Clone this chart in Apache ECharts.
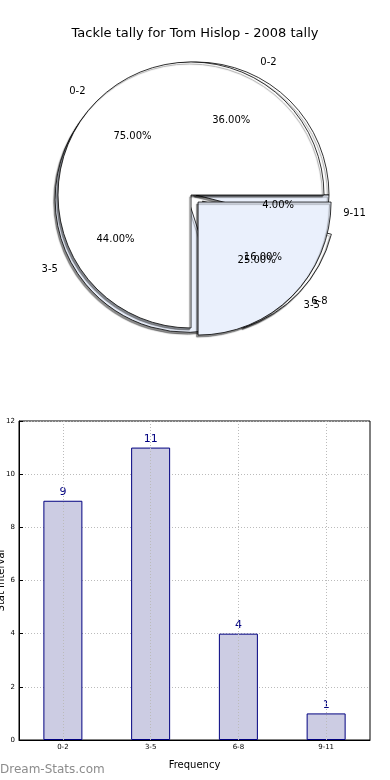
<!DOCTYPE html>
<html>
<head>
<meta charset="utf-8">
<script src="https://cdn.jsdelivr.net/npm/echarts@6/dist/echarts.min.js"></script>
<style>
html,body{margin:0;padding:0;background:#fff;}
#chart{width:390px;height:780px;}
</style>
</head>
<body>
<div id="chart"></div>
<script>
// ---- data ----
const titleText = 'Tackle tally for Tom Hislop - 2008 tally';
const categories = ['0-2', '3-5', '6-8', '9-11'];
const tallyValues = [9, 11, 4, 1];
const pieACategories = ['0-2', '3-5'];
const pieAValues = [75, 25];
const yTicks = [0, 2, 4, 6, 8, 10, 12];
const xAxisName = 'Frequency';
const yAxisName = 'Stat Interval';
const watermark = 'Dream-Stats.com';

// ---- styling ----
const FONT = 'DejaVu Sans';
const sliceColors = ['#ffffff', '#eaf0fc'];
const R = 133;

function pieData(names, vals, selectedNames) {
  return names.map((n, i) => ({
    name: n, value: vals[i],
    selected: selectedNames.indexOf(n) >= 0,
    itemStyle: { color: sliceColors[i % 2] }
  }));
}

const sliceStyle = {
  borderColor: '#000', borderWidth: 0.8,
  shadowColor: 'rgba(0,0,0,0.45)', shadowBlur: 1, shadowOffsetX: -1.5, shadowOffsetY: 2
};
const noOverlapHide = { hideOverlap: false, moveOverlap: null };

function slicesSeries(names, vals, sel, z, center, offset) {
  return {
    type: 'pie', z: z, center: center, radius: R,
    startAngle: 0, clockwise: false,
    selectedMode: 'multiple', selectedOffset: offset,
    avoidLabelOverlap: false, silent: true, animation: false,
    emphasis: { disabled: true },
    labelLayout: noOverlapHide,
    itemStyle: sliceStyle,
    label: { show: true, position: 'outside', formatter: '{b}', fontFamily: FONT, fontSize: 10, color: '#000', distanceToLabelLine: 2 },
    labelLine: { show: false, length: R * 0.1, length2: 0 },
    data: pieData(names, vals, sel)
  };
}
function pctSeries(names, vals, sel, z, center, offset) {
  return {
    type: 'pie', z: z, center: center, radius: [R * 0.2, R],
    startAngle: 0, clockwise: false,
    selectedMode: 'multiple', selectedOffset: offset,
    avoidLabelOverlap: false, silent: true, animation: false,
    emphasis: { disabled: true },
    labelLayout: noOverlapHide,
    itemStyle: { color: 'rgba(0,0,0,0)', borderWidth: 0 },
    label: { show: true, position: 'inside', fontFamily: FONT, fontSize: 10, color: '#000',
      formatter: p => p.percent.toFixed(2) + '%' },
    labelLine: { show: false },
    data: names.map((n, i) => ({ name: n, value: vals[i], selected: sel.indexOf(n) >= 0 }))
  };
}

const centerA = [191, 195];
const centerB = [196, 195];
const selB = ['3-5', '6-8'];
const selA = ['3-5'];

const chart = echarts.init(document.getElementById('chart'), null, { renderer: 'canvas' });
chart.setOption({
  animation: false,
  backgroundColor: '#fff',
  title: {
    text: titleText, left: 'center', top: 22,
    textStyle: { fontFamily: FONT, fontSize: 13, fontWeight: 'normal', color: '#000' }
  },
  graphic: [{
    type: 'text', left: 0, top: 764,
    style: { text: watermark, fontFamily: FONT, fontSize: 12, fontWeight: 'normal', fill: '#8c8c8c' }
  }],
  grid: {
    left: 19, right: 20, top: 421, bottom: 40,
    show: true, borderColor: '#000', borderWidth: 1, backgroundColor: 'transparent',
    outerBoundsMode: 'none', containLabel: false
  },
  xAxis: {
    type: 'category', data: categories, boundaryGap: true,
    name: xAxisName, nameLocation: 'middle', nameGap: 20,
    nameTextStyle: { fontFamily: FONT, fontSize: 10, color: '#000' },
    axisLine: { show: true, lineStyle: { color: '#000' } },
    axisTick: { show: true, inside: true, alignWithLabel: true, length: 4, lineStyle: { color: '#000' } },
    axisLabel: { fontFamily: FONT, fontSize: 7, color: '#000', margin: 4 },
    splitLine: { show: false }
  },
  yAxis: {
    type: 'value', min: 0, max: 12, interval: 2,
    name: yAxisName, nameLocation: 'middle', nameGap: 13, nameRotate: 90, nameMoveOverlap: false,
    nameTextStyle: { fontFamily: FONT, fontSize: 10, color: '#000' },
    axisLine: { show: true, lineStyle: { color: '#000' } },
    axisTick: { show: true, inside: true, length: 4, lineStyle: { color: '#000' } },
    axisLabel: { fontFamily: FONT, fontSize: 7, color: '#000', margin: 4,
      formatter: v => yTicks.indexOf(v) >= 0 ? String(v) : '' },
    splitLine: { show: true, lineStyle: { color: '#bbb', type: [1, 2], width: 1 } }
  },
  series: [
    slicesSeries(categories, tallyValues, selB, 1, centerB, 9),
    slicesSeries(pieACategories, pieAValues, selA, 2, centerA, 10),
    pctSeries(categories, tallyValues, selB, 3, centerB, 9),
    pctSeries(pieACategories, pieAValues, selA, 3, centerA, 10),
    {
      type: 'bar', data: tallyValues, barWidth: 39, z: 2,
      itemStyle: { color: '#ccccE3', borderColor: '#000080', borderWidth: 1 },
      label: { show: true, position: 'top', distance: 3, fontFamily: FONT, fontSize: 11, color: '#000080' },
      emphasis: { disabled: true },
      markLine: {
        silent: true, symbol: 'none', label: { show: false },
        lineStyle: { color: '#bbb', type: [1, 2], width: 1 },
        data: categories.map(c => ({ xAxis: c }))
      }
    }
  ]
});
</script>
</body>
</html>
